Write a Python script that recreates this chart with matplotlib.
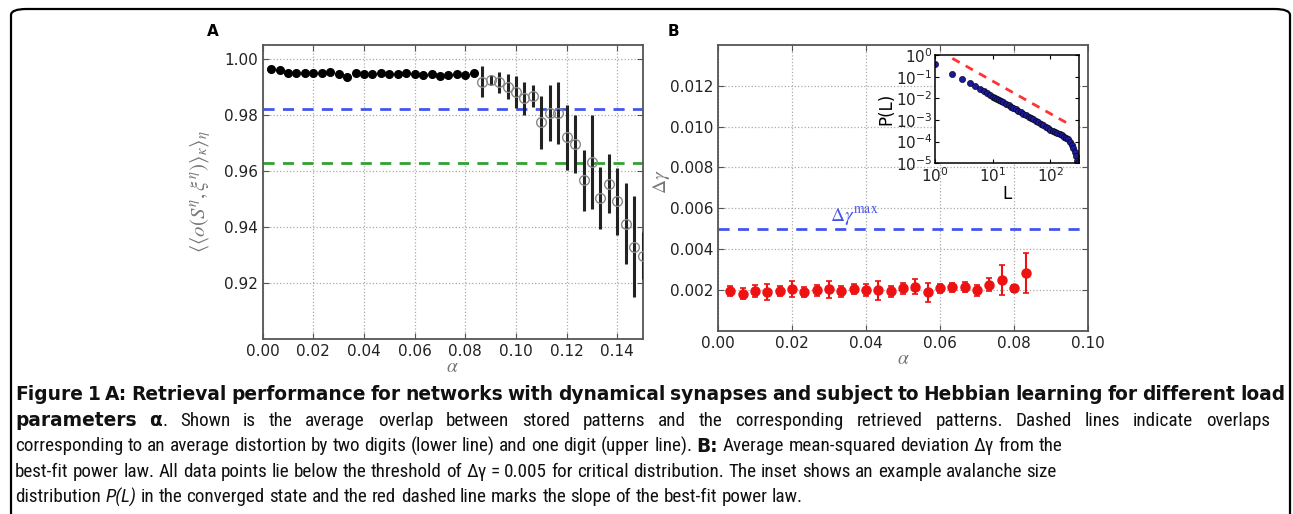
import matplotlib
matplotlib.use('Agg')
import matplotlib.pyplot as plt
from matplotlib.patches import FancyBboxPatch
from matplotlib import font_manager as fm
from matplotlib.ft2font import FT2Font

plt.rcParams['mathtext.fontset'] = 'stix'
plt.rcParams['font.family'] = ['DejaVu Sans']

# ---- panel A: overlap vs load alpha ----
alpha_filled = [0.0033, 0.0067, 0.0100, 0.0133, 0.0167, 0.0200, 0.0233, 0.0267, 0.0300,
                0.0333, 0.0367, 0.0400, 0.0433, 0.0467, 0.0500, 0.0533, 0.0567, 0.0600,
                0.0633, 0.0667, 0.0700, 0.0733, 0.0767, 0.0800, 0.0833]
overlap_filled = [0.9964, 0.9963, 0.9952, 0.9949, 0.9952, 0.9952, 0.9949, 0.9956, 0.9946,
                  0.9938, 0.9952, 0.9947, 0.9947, 0.9950, 0.9947, 0.9947, 0.9949, 0.9946,
                  0.9944, 0.9947, 0.9940, 0.9945, 0.9947, 0.9944, 0.9952]
err_filled = [0.0007] * 25

alpha_open = [0.0867, 0.0900, 0.0933, 0.0967, 0.1000, 0.1033, 0.1067, 0.1100, 0.1133, 0.1167,
              0.1200, 0.1233, 0.1267, 0.1300, 0.1333, 0.1367, 0.1400, 0.1433, 0.1467, 0.1500]
overlap_open = [0.9920, 0.9926, 0.9917, 0.9902, 0.9884, 0.9860, 0.9868, 0.9774, 0.9806, 0.9808,
                0.9720, 0.9696, 0.9566, 0.9632, 0.9503, 0.9554, 0.9491, 0.9411, 0.9329, 0.9297]
err_open = [0.0054, 0.0017, 0.0037, 0.0045, 0.0057, 0.0060, 0.0040, 0.0096, 0.0100, 0.0110,
            0.0115, 0.0104, 0.0110, 0.0170, 0.0110, 0.0105, 0.0120, 0.0144, 0.0180, 0.0085]

one_digit_level = 0.9820
two_digit_level = 0.9629

# ---- panel B: deviation from power law ----
alpha_b = alpha_filled
dgamma = [0.00193, 0.00182, 0.00193, 0.00189, 0.00193, 0.00205, 0.00189, 0.00197, 0.00202,
          0.00193, 0.00205, 0.00198, 0.00198, 0.00193, 0.00207, 0.00215, 0.00189, 0.00207,
          0.00213, 0.00213, 0.00197, 0.00226, 0.00247, 0.00208, 0.00283]
dgamma_err = [0.00025, 0.00027, 0.00030, 0.00038, 0.00025, 0.00040, 0.00025, 0.00027, 0.00040,
              0.00027, 0.00026, 0.00029, 0.00047, 0.00027, 0.00025, 0.00037, 0.00047, 0.00024,
              0.00022, 0.00025, 0.00029, 0.00030, 0.00073, 0.00017, 0.00100]
dgamma_max = 0.005

# ---- inset: avalanche size distribution ----
L_vals = [1, 2, 3, 4, 5, 6, 7, 8, 9, 10, 11, 12, 13, 14, 15, 17, 19, 21, 23, 25, 28, 31, 34,
          38, 42, 46, 51, 56, 62, 68, 75, 83, 91, 100, 110, 121, 133, 146, 160, 175, 190, 205,
          220, 235, 250, 265, 280, 295, 305]
P_vals = [0.38, 0.13, 0.075, 0.049, 0.037, 0.026, 0.021, 0.017, 0.0141, 0.0118, 0.0103,
          0.00906, 0.00807, 0.00727, 0.00659, 0.00552, 0.00470, 0.00406, 0.00355, 0.00314,
          0.00265, 0.00229, 0.00198, 0.00167, 0.00143, 0.00124, 0.00106, 0.000919, 0.000782,
          0.000674, 0.000578, 0.000491, 0.000423, 0.000363, 0.000323, 0.000286, 0.000254,
          0.000226, 0.000197, 0.000171, 0.000150, 0.000126, 9.7e-5, 7.2e-5, 5.0e-5, 3.4e-5,
          2.1e-5, 1.3e-5, 1.05e-5]
fit_L = [2, 200]
fit_P = [0.70, 7.0e-4]

caption_lines = [
    [("Figure 1 A: Retrieval performance for networks with dynamical synapses and subject to Hebbian learning for different load", 'bold', 'normal')],
    [("parameters \u03b1", 'bold', 'normal'),
     (". Shown is the average overlap between stored patterns and the corresponding retrieved patterns. Dashed lines indicate overlaps", 'normal', 'normal')],
    [("corresponding to an average distortion by two digits (lower line) and one digit (upper line). ", 'normal', 'normal'),
     ("B:", 'bold', 'normal'),
     (" Average mean-squared deviation \u0394\u03b3 from the", 'normal', 'normal')],
    [("best-fit power law. All data points lie below the threshold of \u0394\u03b3 = 0.005 for critical distribution. The inset shows an example avalanche size", 'normal', 'normal')],
    [("distribution ", 'normal', 'normal'), ("P(L)", 'normal', 'italic'),
     (" in the converged state and the red dashed line marks the slope of the best-fit power law.", 'normal', 'normal')],
]
caption_line_y = [394, 421, 446, 472, 497]
caption_line_end = [1285, 1270, 1047, 1117, 773]
caption_justify = [True, True, False, False, False]


def wnum(w):
    if isinstance(w, str):
        return fm.weight_dict.get(w, 400)
    return w


def has_greek(path):
    try:
        cmap = FT2Font(path).get_charmap()
        return all(ord(c) in cmap for c in '\u03b1\u03b3\u0394')
    except Exception:
        return False


def pick_caption_fonts():
    # a narrow / condensed sans with greek letters for the running text
    narrow = [f for f in fm.fontManager.ttflist
              if ('Narrow' in f.name or 'Condensed' in f.name
                  or f.stretch in ('condensed', 'semi-condensed', 'extra-condensed'))
              and 'Mono' not in f.name and 'Serif' not in f.name]
    order = ['Liberation Sans Narrow', 'Roboto Condensed', 'Open Sans Condensed',
             'Noto Sans', 'Noto Sans Condensed', 'DejaVu Sans', 'DejaVu Sans Condensed']
    names = sorted(set(f.name for f in narrow),
                   key=lambda n: order.index(n) if n in order else 99)
    for nm in names:
        group = [f for f in narrow if f.name == nm]
        reg = [f for f in group if wnum(f.weight) == 400 and f.style == 'normal']
        ital = [f for f in group if wnum(f.weight) == 400 and f.style in ('italic', 'oblique')]
        if reg and has_greek(reg[0].fname):
            r = reg[0].fname
            return {'normal': r, 'italic': ital[0].fname if ital else r}
    return None


W, H = 1293, 514
fig = plt.figure(figsize=(W / 100, H / 100), dpi=100)

spine_col = '#555555'
label_gray = '#777777'


def style_axes(ax):
    for s in ax.spines.values():
        s.set_color(spine_col)
        s.set_linewidth(1.3)
    ax.tick_params(direction='in', top=True, right=True, labelsize=11, length=4,
                   color=spine_col, labelcolor='#222222')
    ax.grid(True, linestyle=':', color='#aaaaaa', linewidth=0.9)
    ax.set_axisbelow(True)


# panel A
axA = fig.add_axes([262.7 / W, 1 - 339 / H, 380 / W, 294 / H])
style_axes(axA)
axA.axhline(one_digit_level, color='#4455ee', lw=2, ls=(0, (4, 3)))
axA.axhline(two_digit_level, color='#33a033', lw=2, ls=(0, (4, 3)))
axA.errorbar(alpha_filled, overlap_filled, yerr=err_filled, fmt='o', color='black',
             ms=5.5, elinewidth=1.5, capsize=0, zorder=3)
axA.errorbar(alpha_open, overlap_open, yerr=err_open, fmt='o', mfc='none', mec='#888888',
             ecolor='#222222', ms=7, mew=1.0, elinewidth=2.2, capsize=0, zorder=3)
axA.set_xlim(0, 0.15)
axA.set_ylim(0.8998, 1.0051)
axA.set_xticks([0.00, 0.02, 0.04, 0.06, 0.08, 0.10, 0.12, 0.14])
axA.set_xticklabels(['0.00', '0.02', '0.04', '0.06', '0.08', '0.10', '0.12', '0.14'])
axA.set_yticks([0.92, 0.94, 0.96, 0.98, 1.00])
axA.set_yticklabels(['0.92', '0.94', '0.96', '0.98', '1.00'])
axA.set_xlabel(r'$\alpha$', color=label_gray, fontsize=14, labelpad=-1)
axA.set_ylabel(r'$\langle\langle o(S^\eta,\xi^\eta)\rangle_\kappa\rangle_\eta$',
               color=label_gray, fontsize=15)
axA.yaxis.set_label_coords(-0.13, 0.5)
fig.text(207 / W, 1 - 32 / H, 'A', fontsize=11, fontweight='bold', va='center')

# panel B
axB = fig.add_axes([718.3 / W, 1 - 330.7 / H, 369.4 / W, 285.7 / H])
style_axes(axB)
axB.axhline(dgamma_max, color='#4455ee', lw=2, ls=(0, (4, 3)))
axB.errorbar(alpha_b, dgamma, yerr=dgamma_err, fmt='o', color='#ee1111', ms=6.5,
             elinewidth=1.5, capsize=2, capthick=1.2, zorder=3)
axB.text(0.0303, dgamma_max + 0.00002, r'$\Delta\gamma^{\mathrm{max}}$', color='#4455ee',
         fontsize=14, va='bottom')
axB.set_xlim(0, 0.10)
axB.set_ylim(0, 0.014)
axB.set_xticks([0.00, 0.02, 0.04, 0.06, 0.08, 0.10])
axB.set_xticklabels(['0.00', '0.02', '0.04', '0.06', '0.08', '0.10'])
axB.set_yticks([0.002, 0.004, 0.006, 0.008, 0.010, 0.012])
axB.set_yticklabels(['0.002', '0.004', '0.006', '0.008', '0.010', '0.012'])
axB.set_xlabel(r'$\alpha$', color=label_gray, fontsize=14, labelpad=-1)
axB.set_ylabel(r'$\Delta\gamma$', color=label_gray, fontsize=14)
axB.yaxis.set_label_coords(-0.125, 0.52)
fig.text(668 / W, 1 - 32 / H, 'B', fontsize=11, fontweight='bold', va='center')

# inset
axI = fig.add_axes([935 / W, 1 - 163.3 / H, 144.3 / W, 108.3 / H])
axI.plot(fit_L, fit_P, color='#ff3333', lw=2, ls=(0, (3, 2.5)))
axI.plot(L_vals, P_vals, 'o', color='#1a1a9a', mec='black', mew=0.4, ms=4.5, clip_on=True)
axI.set_xscale('log')
axI.set_yscale('log')
axI.set_xlim(1, 320)
axI.set_ylim(1e-5, 1)
axI.set_yticks([1, 1e-1, 1e-2, 1e-3, 1e-4, 1e-5])
axI.set_xticks([1, 10, 100])
axI.tick_params(direction='in', top=True, right=True, labelsize=11, length=3,
                labelcolor='#222222', pad=2)
axI.tick_params(which='minor', length=0)
for s in axI.spines.values():
    s.set_linewidth(1.1)
axI.set_xlabel('L', fontsize=12, labelpad=0)
axI.set_ylabel('P(L)', fontsize=12, labelpad=0)

# border box round the whole figure
box = FancyBboxPatch((11 / W, -0.05), (1290 - 11) / W, (514 - 9) / H + 0.05,
                     boxstyle='round,pad=0,rounding_size=0.012', transform=fig.transFigure,
                     fill=False, edgecolor='black', lw=1.6, clip_on=False)
fig.add_artist(box)

# caption
renderer = fig.canvas.get_renderer()
cap_files = pick_caption_fonts()
bold_scale = 1.0


def cap_props(wt, st, size):
    if wt == 'bold':
        return fm.FontProperties(family=['DejaVu Sans'], weight='bold', size=size * bold_scale)
    if cap_files is not None:
        return fm.FontProperties(fname=cap_files[st], size=size)
    return fm.FontProperties(family='DejaVu Sans', style=st, size=size, stretch='condensed')


def tokenize(segs):
    toks = []
    pending = False
    for txt, wt, st in segs:
        for i, p in enumerate(txt.split(' ')):
            if i > 0:
                pending = True
            if p == '':
                continue
            toks.append((p, wt, st, pending and bool(toks)))
            pending = False
    return toks


def text_w(s, props):
    t = fig.text(0, 0, s, fontproperties=props)
    w = t.get_window_extent(renderer).width
    t.remove()
    return w


def space_w(size, wt='normal'):
    return text_w('n n', cap_props(wt, 'normal', size)) - text_w('nn', cap_props(wt, 'normal', size))


def natural_w(segs, size):
    toks = tokenize(segs)
    return sum(text_w(p, cap_props(wt, st, size)) for p, wt, st, sb in toks) + \
        space_w(size) * sum(1 for tk in toks if tk[3])


def draw_line(segs, yy, size, xend=None):
    toks = tokenize(segs)
    widths = [text_w(p, cap_props(wt, st, size)) for p, wt, st, sb in toks]
    ngaps = sum(1 for tk in toks if tk[3])
    gap = space_w(size)
    if xend is not None and ngaps:
        gap = (xend - 15 - sum(widths)) / ngaps
    x = 15
    for (p, wt, st, sb), w in zip(toks, widths):
        if sb:
            x += gap
        fig.text(x / W, 1 - yy / H, p, fontproperties=cap_props(wt, st, size),
                 va='center', ha='left', color='#111111')
        x += w
    return x - 15


# font size from the lines that are not justified
probe = 12.0
sizes = [probe * (xend - 15) / natural_w(segs, probe)
         for segs, xend, just in zip(caption_lines, caption_line_end, caption_justify)
         if not just]
cap_size = sum(sizes) / len(sizes)

# bold size so that the all-bold first line fills its width with plain spacing
bold_scale = (caption_line_end[0] - 15) / natural_w(caption_lines[0], cap_size)

for segs, yy, xend, just in zip(caption_lines, caption_line_y, caption_line_end,
                                caption_justify):
    draw_line(segs, yy, cap_size, xend if just else None)

fig.savefig('out.png', dpi=100)
